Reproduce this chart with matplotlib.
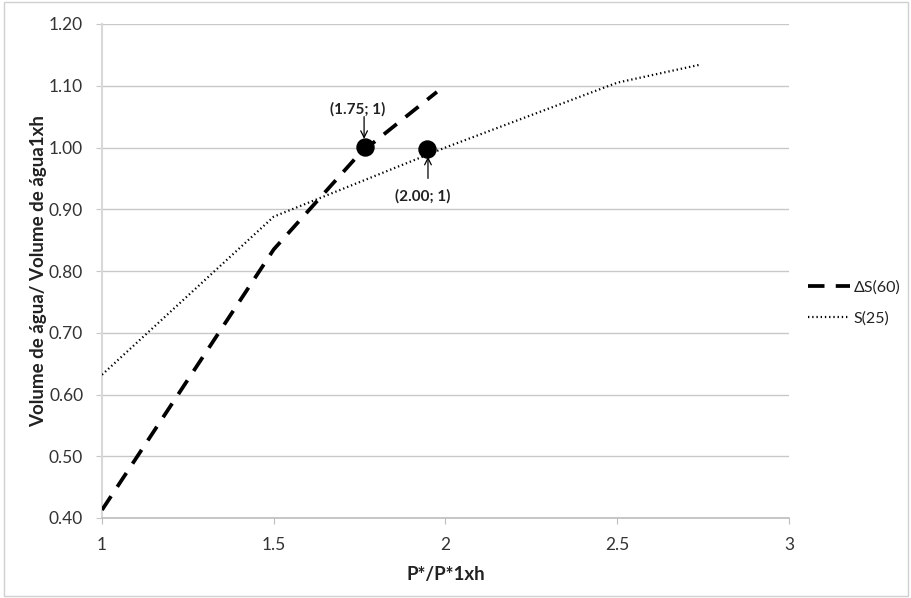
import matplotlib
matplotlib.use("Agg")
import matplotlib.pyplot as plt
from matplotlib.lines import Line2D

plt.rcParams['font.family'] = ['Lato', 'DejaVu Sans']

# Data
x_ds60 = [1.0, 1.5, 1.75, 1.975]
y_ds60 = [0.413, 0.835, 0.99, 1.09]
x_s25 = [1.0, 1.5, 2.0, 2.5, 2.74]
y_s25 = [0.632, 0.888, 1.0, 1.105, 1.134]
marker_x = [1.766, 1.947]
marker_y = [1.001, 0.997]
marker_labels = ["(1.75; 1)", "(2.00; 1)"]
series_names = ["\u0394S(60)", "S(25)"]
x_ticks = [1, 1.5, 2, 2.5, 3]
x_tick_labels = ["1", "1.5", "2", "2.5", "3"]
y_ticks = [0.40, 0.50, 0.60, 0.70, 0.80, 0.90, 1.00, 1.10, 1.20]

fig = plt.figure(figsize=(9.12, 5.98), dpi=100)
ax = fig.add_axes([102/912, 1-518/598, (789-102)/912, (518-24)/598])

grid_c = '#c8c8c8'
txt_c = '#333333'
ax.set_xlim(1, 3)
ax.set_ylim(0.40, 1.20)
ax.set_yticks(y_ticks)
ax.set_yticklabels([f"{v:.2f}" for v in y_ticks])
ax.set_xticks(x_ticks)
ax.set_xticklabels(x_tick_labels)
ax.yaxis.grid(True, color=grid_c, linewidth=1.0)
ax.set_axisbelow(True)
for s in ['top', 'right']:
    ax.spines[s].set_visible(False)
ax.spines['left'].set_color('#d8d8d8')
ax.spines['left'].set_linewidth(1.5)
ax.spines['bottom'].set_color('#bdbdbd')
ax.spines['bottom'].set_linewidth(1.2)
ax.tick_params(axis='y', length=4.5, color=grid_c, labelsize=12.5, labelcolor=txt_c, pad=9)
ax.tick_params(axis='x', length=4, color='#bdbdbd', labelsize=12.5, labelcolor=txt_c, pad=10)

dash = (0, (4.4, 3.0))
dot = (0, (0.6, 1.3))
ax.plot(x_ds60, y_ds60, color='black', linewidth=2.7, linestyle=dash,
        dash_capstyle='butt', label=series_names[0], zorder=3)
ax.plot(x_s25, y_s25, color='black', linewidth=1.6, linestyle=dot,
        label=series_names[1], zorder=3)
ax.scatter(marker_x, marker_y, s=150, color='black', zorder=4)

# annotation texts and arrows
ax.text(1.745, 1.061, marker_labels[0], ha='center', va='center', fontsize=11,
        fontweight='bold', color='#222222')
ax.annotate('', xy=(1.763, 1.014), xytext=(1.763, 1.050),
            arrowprops=dict(arrowstyle='->', color='black', lw=0.9, shrinkA=0, shrinkB=0,
                            mutation_scale=12))
ax.text(1.934, 0.921, marker_labels[1], ha='center', va='center', fontsize=11,
        fontweight='bold', color='#222222')
ax.annotate('', xy=(1.949, 0.985), xytext=(1.949, 0.950),
            arrowprops=dict(arrowstyle='->', color='black', lw=0.9, shrinkA=0, shrinkB=0,
                            mutation_scale=12))

ax.set_xlabel("P*/P*1xh", fontsize=13.5, fontweight='bold', color='#222222', labelpad=9)
ax.set_ylabel("Volume de \u00e1gua/ Volume de \u00e1gua1xh", fontsize=13.5,
              fontweight='bold', color='#222222')
ax.yaxis.set_label_coords((47 - 102) / 687, 0.5)

h1 = Line2D([0], [0], color='black', linewidth=2.7, linestyle=dash, dash_capstyle='butt')
h2 = Line2D([0], [0], color='black', linewidth=1.6, linestyle=dot)
leg = fig.legend([h1, h2], series_names, loc='center left',
                 bbox_to_anchor=(808/912, 1-303/598), frameon=False, fontsize=11.5,
                 handlelength=2.6, handletextpad=0.25, labelspacing=1.0,
                 borderpad=0, borderaxespad=0)
for t in leg.get_texts():
    t.set_color('#222222')

# chart border
fig.patches.append(plt.Rectangle((0.004, 0.004), 0.992, 0.992, transform=fig.transFigure,
                                 fill=False, edgecolor='#d0d0d0', linewidth=1.0))

fig.savefig("out.png", dpi=100)
